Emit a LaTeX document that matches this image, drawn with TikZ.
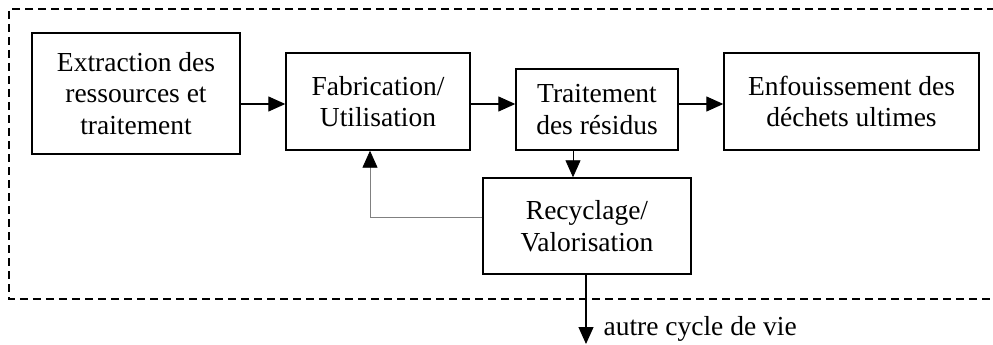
\documentclass[tikz,border=0pt]{standalone}
\usepackage{fontspec}
\setmainfont{Liberation Serif}
\usetikzlibrary{arrows.meta}
\begin{document}
\begin{tikzpicture}[x=1pt, y=-1pt,
        box/.style={draw, line width=1.4pt, align=center, inner sep=0pt,
                    font=\fontsize{27.5}{31.7}\selectfont},
        arr/.style={line width=1.2pt, -{Triangle[length=17pt,width=15pt,black]}}]
            \useasboundingbox (0,0) rectangle (993,345);
            % cadre du cycle de vie
            \draw[line width=1.3pt, dash pattern=on 8pt off 5pt] (995,9) -- (9,9) -- (9,299) -- (995,299);

            \node[box, minimum width=208pt, minimum height=121pt] (extr) at (136,93.5) {Extraction des\\ressources et\\traitement};
            \node[box, minimum width=184pt, minimum height=97pt] (fabr) at (378,101.5) {Fabrication/\\Utilisation};
            \node[box, minimum width=162pt, minimum height=81pt] (trait) at (597,109.5) {Traitement\\des r\'esidus};
            \node[box, minimum width=255pt, minimum height=97pt] (enfou) at (851.5,101.5) {Enfouissement des\\d\'echets ultimes};
            \node[box, minimum width=208pt, minimum height=96pt] (recy) at (587,226) {Recyclage/\\Valorisation};

            \coordinate (sortie) at (586,344);
            \node[anchor=west, font=\fontsize{27.5}{31.7}\selectfont] (autre) at (600,329) {autre cycle de vie};

            \draw[arr] (extr.east |- 0,104) -- (fabr.west |- 0,104);
            \draw[arr] (fabr.east |- 0,104) -- (trait.west |- 0,104);
            \draw[arr] (trait.east |- 0,104) -- (enfou.west |- 0,104);
            \draw[arr, line width=0.8pt] (trait.south -| 573,0) -- (recy.north -| 573,0);
            \draw[line width=0.8pt, gray] (recy.west |- 0,217) -- (370,217) -- (370,163);
            \draw[arr, line width=0.8pt, gray] (370,165) -- (fabr.south -| 370,0);
            \draw[arr] (recy.south -| sortie) -- (sortie);
        \end{tikzpicture}
\end{document}
